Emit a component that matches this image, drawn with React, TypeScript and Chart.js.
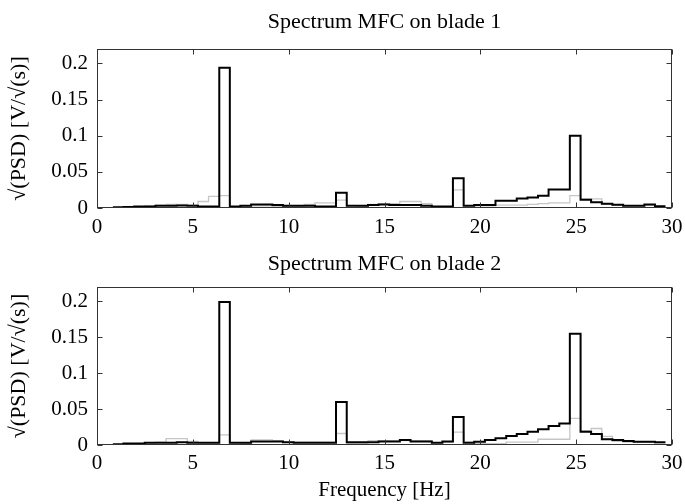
import React, { useEffect, useRef } from "react";
import { Chart, registerables } from "chart.js";

Chart.register(...registerables);

// Frequency bin edges [Hz] (53 edges -> 52 bins)
const freqEdges = [
  0.83, 1.38, 1.94, 2.49, 3.05, 3.6, 4.16, 4.71, 5.27, 5.82,
  6.38, 6.93, 7.48, 8.04, 8.59, 9.15, 9.7, 10.26, 10.81, 11.37,
  11.92, 12.47, 13.03, 13.58, 14.14, 14.69, 15.25, 15.8, 16.36, 16.91,
  17.47, 18.02, 18.57, 19.13, 19.68, 20.24, 20.79, 21.35, 21.9, 22.46,
  23.01, 23.56, 24.12, 24.67, 25.23, 25.78, 26.34, 26.89, 27.45, 28.0,
  28.56, 29.11, 29.66,
];

// Blade 1 spectra
const blade1Black = [
  0.001, 0.0015, 0.002, 0.002, 0.003, 0.003, 0.0035, 0.003, 0.002, 0.002,
  0.194, 0.002, 0.003, 0.005, 0.005, 0.004, 0.003, 0.003, 0.003, 0.002,
  0.002, 0.021, 0.003, 0.003, 0.004, 0.005, 0.004, 0.004, 0.004, 0.003,
  0.002, 0.002, 0.041, 0.003, 0.004, 0.004, 0.01, 0.01, 0.013, 0.0145,
  0.017, 0.0256, 0.0256, 0.1, 0.0115, 0.008, 0.006, 0.0045, 0.003, 0.003,
  0.005, 0.0025,
];
const blade1Gray = [
  0.0005, 0.001, 0.002, 0.003, 0.004, 0.005, 0.005, 0.004, 0.009, 0.016,
  0.017, 0.001, 0.002, 0.003, 0.003, 0.002, 0.002, 0.002, 0.005, 0.007,
  0.007, 0.011, 0.001, 0.002, 0.005, 0.006, 0.006, 0.009, 0.009, 0.006,
  0.002, 0.002, 0.025, 0.003, 0.003, 0.003, 0.004, 0.004, 0.004, 0.005,
  0.006, 0.007, 0.007, 0.017, 0.0125, 0.0125, 0.005, 0.004, 0.003, 0.003,
  0.004, 0.002,
];

// Blade 2 spectra
const blade2Black = [
  0.001, 0.002, 0.002, 0.003, 0.003, 0.003, 0.004, 0.003, 0.003, 0.003,
  0.199, 0.003, 0.003, 0.005, 0.005, 0.005, 0.004, 0.003, 0.003, 0.003,
  0.003, 0.06, 0.004, 0.004, 0.004, 0.005, 0.005, 0.007, 0.005, 0.005,
  0.003, 0.005, 0.039, 0.003, 0.0046, 0.0069, 0.0093, 0.0125, 0.0153, 0.0185,
  0.0218, 0.0264, 0.03, 0.155, 0.0185, 0.0153, 0.0079, 0.0069, 0.0055, 0.0046,
  0.0046, 0.0037,
];
const blade2Gray = [
  0.0, 0.001, 0.002, 0.003, 0.004, 0.009, 0.009, 0.005, 0.003, 0.003,
  0.014, 0.001, 0.002, 0.007, 0.007, 0.006, 0.004, 0.004, 0.004, 0.004,
  0.004, 0.016, 0.002, 0.002, 0.006, 0.006, 0.006, 0.006, 0.006, 0.006,
  0.003, 0.004, 0.018, 0.004, 0.002, 0.002, 0.002, 0.004, 0.004, 0.004,
  0.008, 0.008, 0.008, 0.037, 0.02, 0.023, 0.012, 0.005, 0.004, 0.004,
  0.004, 0.003,
];

const xTickValues = [0, 5, 10, 15, 20, 25, 30];
const yTickValues = [0, 0.05, 0.1, 0.15, 0.2];
const titles = ["Spectrum MFC on blade 1", "Spectrum MFC on blade 2"];
const yLabel = "√(PSD) [V/√(s)]";
const xLabel = "Frequency [Hz]";

const FONT = "'Liberation Serif', 'Times New Roman', serif";

function stepPoints(vals: number[]) {
  const pts = vals.map((v, i) => ({ x: freqEdges[i], y: v }));
  pts.push({ x: freqEdges[vals.length], y: vals[vals.length - 1] });
  return pts;
}

const frameTicksPlugin = {
  id: "frameTicks",
  afterDatasetsDraw(chart: any) {
    const { ctx, chartArea, scales } = chart;
    const l = Math.round(chartArea.left) + 0.5;
    const r = Math.round(chartArea.right) - 0.5;
    const t = Math.round(chartArea.top) + 0.5;
    const b = Math.round(chartArea.bottom) - 0.5;
    const len = 5;
    ctx.save();
    ctx.strokeStyle = "#333";
    ctx.lineWidth = 1;
    ctx.beginPath();
    for (const tk of scales.x.ticks) {
      const px = Math.round(scales.x.getPixelForValue(tk.value)) + 0.5;
      ctx.moveTo(px, b);
      ctx.lineTo(px, b - len);
      ctx.moveTo(px, t);
      ctx.lineTo(px, t + len);
    }
    for (const tk of scales.y.ticks) {
      const py = Math.round(scales.y.getPixelForValue(tk.value)) + 0.5;
      ctx.moveTo(l, py);
      ctx.lineTo(l + len, py);
      ctx.moveTo(r, py);
      ctx.lineTo(r - len, py);
    }
    ctx.stroke();
    ctx.strokeRect(l, t, r - l, b - t);
    ctx.restore();
  },
};

function makeConfig(
  title: string,
  black: number[],
  gray: number[],
  showXLabel: boolean,
  topHeight: number,
  titlePadTop: number,
  xAxisHeight: number,
  xTickPad: number
): any {
  return {
    type: "line",
    data: {
      datasets: [
        {
          data: stepPoints(black),
          borderColor: "#000000",
          borderWidth: 2,
          pointRadius: 0,
          stepped: true,
          fill: false,
        },
        {
          data: stepPoints(gray),
          borderColor: "#c6c6c6",
          borderWidth: 1.3,
          pointRadius: 0,
          stepped: true,
          fill: false,
        },
      ],
    },
    options: {
      responsive: false,
      animation: false,
      devicePixelRatio: 1,
      layout: { padding: { left: 0, right: 13, top: 0, bottom: 0 } },
      plugins: {
        legend: { display: false },
        tooltip: { enabled: false },
        title: { display: false },
      },
      scales: {
        xTop: {
          type: "linear",
          position: "top",
          min: 0,
          max: 30,
          grid: { display: false, drawTicks: false },
          border: { display: false },
          ticks: { display: false },
          afterFit: (s: any) => {
            s.height = topHeight;
            s.paddingLeft = 0;
            s.paddingRight = 0;
          },
          title: {
            display: true,
            text: title,
            color: "#000",
            font: { family: FONT, size: 22, lineHeight: 1.2 },
            padding: { top: titlePadTop, bottom: 0 },
          },
        },
        x: {
          type: "linear",
          position: "bottom",
          min: 0,
          max: 30,
          grid: { display: false, drawTicks: false },
          border: { display: false },
          afterBuildTicks: (s: any) => {
            s.ticks = xTickValues.map((v) => ({ value: v }));
          },
          afterFit: (s: any) => {
            s.height = xAxisHeight;
            s.paddingLeft = 0;
            s.paddingRight = 0;
          },
          ticks: {
            color: "#000",
            font: { family: FONT, size: 21 },
            padding: xTickPad,
            maxRotation: 0,
            autoSkip: false,
            callback: (v: any) => String(v),
          },
          title: {
            display: showXLabel,
            text: xLabel,
            color: "#000",
            font: { family: FONT, size: 21, lineHeight: 1.2 },
            padding: { top: 0, bottom: 1 },
          },
        },
        y: {
          type: "linear",
          min: 0,
          max: 0.22,
          grid: { display: false, drawTicks: false },
          border: { display: false },
          afterBuildTicks: (s: any) => {
            s.ticks = yTickValues.map((v) => ({ value: v }));
          },
          afterFit: (s: any) => {
            s.width = 97;
            s.paddingTop = 0;
            s.paddingBottom = 0;
          },
          ticks: {
            color: "#000",
            font: { family: FONT, size: 21 },
            padding: 9,
            autoSkip: false,
            callback: (v: any) => String(v),
          },
          title: {
            display: true,
            text: yLabel,
            color: "#000",
            font: { family: FONT, size: 22, lineHeight: 1.2 },
            padding: { top: 6, bottom: 0 },
          },
        },
      },
    },
    plugins: [frameTicksPlugin],
  };
}

export default function App() {
  const ref1 = useRef<HTMLCanvasElement>(null);
  const ref2 = useRef<HTMLCanvasElement>(null);

  useEffect(() => {
    const c1 = new Chart(
      ref1.current as HTMLCanvasElement,
      makeConfig(titles[0], blade1Black, blade1Gray, false, 49, 9, 28, 7)
    );
    const c2 = new Chart(
      ref2.current as HTMLCanvasElement,
      makeConfig(titles[1], blade2Black, blade2Gray, true, 47, 11, 59, 6)
    );
    return () => {
      c1.destroy();
      c2.destroy();
    };
  }, []);

  return (
    <div style={{ position: "absolute", left: 0, top: 0, width: 685, height: 504, background: "#fff" }}>
      <canvas
        ref={ref1}
        width={685}
        height={236}
        style={{ position: "absolute", left: 0, top: 0, width: 685, height: 236 }}
      />
      <canvas
        ref={ref2}
        width={685}
        height={264}
        style={{ position: "absolute", left: 0, top: 240, width: 685, height: 264 }}
      />
    </div>
  );
}
